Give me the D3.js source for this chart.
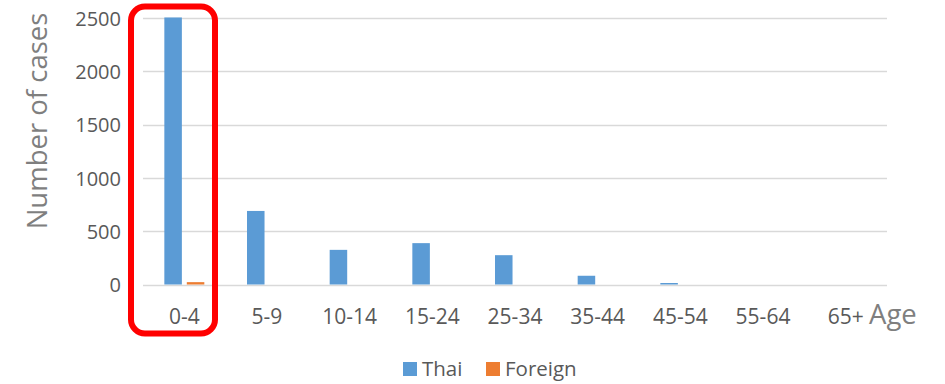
<!DOCTYPE html>
<html>
<head>
<meta charset="utf-8">
<script src="https://cdn.jsdelivr.net/npm/d3@7"></script>
<style>
  html, body { margin: 0; padding: 0; background: #fff; }
  svg { display: block; }
</style>
</head>
<body>
<svg id="chart" width="945" height="384"></svg>
<script>
// Age groups and case counts
const ageGroups = ["0-4", "5-9", "10-14", "15-24", "25-34", "35-44", "45-54", "55-64", "65+"];
const thaiCases = [2505, 690, 325, 388, 275, 82, 14, 0, 0];
const foreignCases = [22, 0, 0, 0, 0, 0, 0, 0, 0];
const seriesNames = ["Thai", "Foreign"];
const seriesColors = ["#5b9bd5", "#ed7d31"];
const yTicks = [0, 500, 1000, 1500, 2000, 2500];

const svg = d3.select("#chart");
const fontFamily = "'Open Sans', 'Liberation Sans', sans-serif";

const plot = { left: 143, right: 887, top: 18, bottom: 284.5 };

const x = d3.scaleBand().domain(ageGroups).range([plot.left, plot.right]).paddingInner(0).paddingOuter(0);
const xInner = d3.scaleBand().domain(seriesNames).range([0, x.bandwidth()]).paddingInner(0.22).paddingOuter(0.95);
const y = d3.scaleLinear().domain([0, 2500]).range([plot.bottom, plot.top]);

// Horizontal gridlines
svg.append("g")
  .selectAll("line")
  .data(yTicks)
  .join("line")
  .attr("x1", plot.left)
  .attr("x2", plot.right)
  .attr("y1", d => Math.round(y(d)) + 0.5)
  .attr("y2", d => Math.round(y(d)) + 0.5)
  .attr("stroke", "#d9d9d9")
  .attr("stroke-width", 1.5);

// Y axis labels
const yAxis = d3.axisLeft(y).tickValues(yTicks).tickSize(0).tickPadding(0).tickFormat(d3.format("d"));
const yg = svg.append("g").attr("transform", "translate(121,0)").call(yAxis);
yg.select(".domain").remove();
yg.selectAll("text")
  .attr("font-family", fontFamily)
  .attr("font-size", 20)
  .attr("fill", "#595959")
  .attr("dy", "0.36em");

// X axis labels
const xAxis = d3.axisBottom(x).tickSize(0).tickPadding(0);
const xg = svg.append("g").attr("transform", `translate(0,${plot.bottom})`).call(xAxis);
xg.select(".domain").remove();
xg.selectAll("text")
  .attr("font-family", fontFamily)
  .attr("font-size", 21)
  .attr("fill", "#595959")
  .attr("y", 39)
  .attr("dy", 0);

// Bars
const groups = svg.append("g")
  .selectAll("g")
  .data(ageGroups)
  .join("g")
  .attr("transform", d => `translate(${x(d)},0)`);

groups.selectAll("rect")
  .data((d, i) => [
    { key: "Thai", value: thaiCases[i] },
    { key: "Foreign", value: foreignCases[i] }
  ])
  .join("rect")
  .attr("x", d => xInner(d.key))
  .attr("width", xInner.bandwidth())
  .attr("y", d => y(d.value))
  .attr("height", d => y(0) - y(d.value))
  .attr("fill", d => seriesColors[seriesNames.indexOf(d.key)]);

// Y axis title
svg.append("text")
  .attr("transform", "translate(47,121) rotate(-90)")
  .attr("text-anchor", "middle")
  .attr("font-family", fontFamily)
  .attr("font-size", 27.5)
  .attr("fill", "#7f7f7f")
  .text("Number of cases");

// X axis title
svg.append("text")
  .attr("x", 869)
  .attr("y", 323.5)
  .attr("font-family", fontFamily)
  .attr("font-size", 27.5)
  .attr("fill", "#7f7f7f")
  .text("Age");

// Highlight around the 0-4 group
svg.append("rect")
  .attr("x", 131)
  .attr("y", 6.5)
  .attr("width", 84)
  .attr("height", 327)
  .attr("rx", 14)
  .attr("ry", 14)
  .attr("fill", "none")
  .attr("stroke", "#ff0000")
  .attr("stroke-width", 6);

// Legend
const legend = svg.append("g").attr("transform", "translate(403,362)");
const legendOffsets = [0, 83];
seriesNames.forEach((name, i) => {
  const g = legend.append("g").attr("transform", `translate(${legendOffsets[i]},0)`);
  g.append("rect").attr("width", 14).attr("height", 14).attr("fill", seriesColors[i]);
  g.append("text")
    .attr("x", 19)
    .attr("y", 14)
    .attr("font-family", fontFamily)
    .attr("font-size", 20.5)
    .attr("fill", "#595959")
    .text(name);
});
</script>
</body>
</html>
